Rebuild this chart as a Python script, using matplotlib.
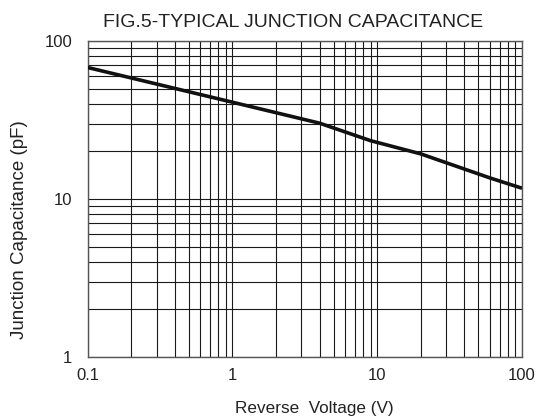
import matplotlib
matplotlib.use('Agg')
from matplotlib import pyplot as plt
from matplotlib.ticker import FixedLocator, FixedFormatter, LogLocator, NullFormatter

plt.rcParams['font.family'] = ['Liberation Sans', 'DejaVu Sans']

# curve
volts = [0.1, 1, 4, 9, 20, 60, 100]
cap_pf = [68, 41, 30.2, 23.4, 19.3, 13.6, 11.7]

x_ticks = [0.1, 1, 10, 100]
x_labels = ['0.1', '1', '10', '100']
y_ticks = [1, 10, 100]
y_labels = ['1', '10', '100']

fig = plt.figure(figsize=(5.38, 4.17), dpi=100)
ax = fig.add_axes([87.5 / 538, 60 / 417, 434.5 / 538, 316 / 417])

ax.plot(volts, cap_pf, color='#111111', linewidth=2.6, solid_capstyle='butt',
        solid_joinstyle='round', zorder=3)

ax.set_xscale('log')
ax.set_yscale('log')
ax.set_xlim(0.1, 100)
ax.set_ylim(1, 100)

ax.xaxis.set_major_locator(FixedLocator(x_ticks))
ax.xaxis.set_major_formatter(FixedFormatter(x_labels))
ax.yaxis.set_major_locator(FixedLocator(y_ticks))
ax.yaxis.set_major_formatter(FixedFormatter(y_labels))
for axis in (ax.xaxis, ax.yaxis):
    axis.set_minor_locator(LogLocator(base=10, subs=range(2, 10), numticks=20))
    axis.set_minor_formatter(NullFormatter())

ax.grid(True, which='both', color='#1a1a1a', linewidth=0.8)
ax.tick_params(which='both', length=0)
ax.tick_params(axis='x', labelsize=12, pad=8, colors='#222222')
ax.tick_params(axis='y', labelsize=12, pad=11, colors='#222222')
for sp in ax.spines.values():
    sp.set_color('#555555')
    sp.set_linewidth(1.0)

fig.text(293 / 538, 1 - 26.7 / 417, 'FIG.5-TYPICAL JUNCTION CAPACITANCE',
         ha='center', va='baseline', fontsize=14, color='#222222')
fig.text(314 / 538, 1 - 413 / 417, 'Reverse  Voltage (V)',
         ha='center', va='baseline', fontsize=12.3, color='#222222')
fig.text(20 / 538, 1 - 230 / 417, 'Junction Capacitance (pF)',
         ha='center', va='center', rotation=90, fontsize=13.5, color='#222222')

fig.savefig('out.png', dpi=100)
